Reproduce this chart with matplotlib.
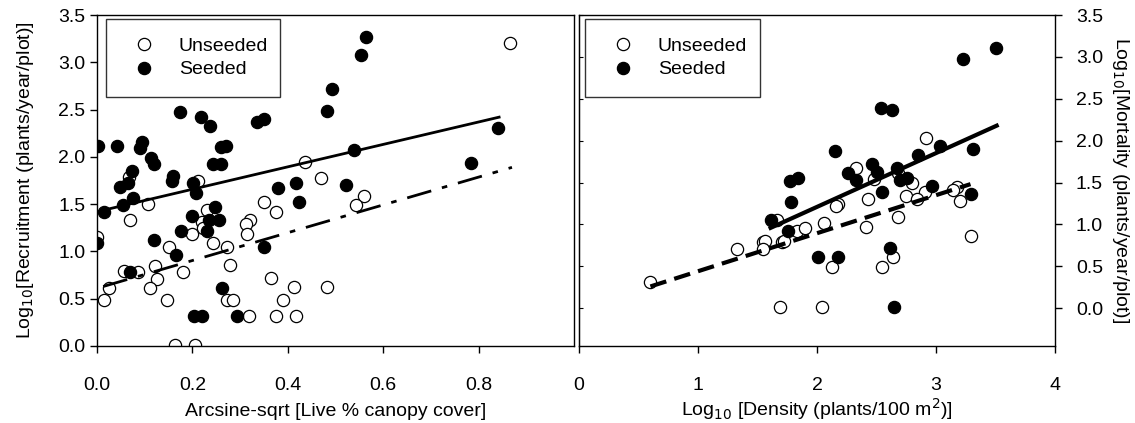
import numpy as np
import matplotlib
matplotlib.use("Agg")
import matplotlib.pyplot as plt

plt.rcParams['font.family'] = ['Liberation Sans', 'DejaVu Sans']
plt.rcParams['font.size'] = 14

# left panel: recruitment vs canopy cover
cover_unseeded = [0.866, 0.437, 0.469, 0.559, 0.544, 0.376, 0.350, 0.320, 0.313, 0.314,
                  0.272, 0.278, 0.364, 0.414, 0.483, 0.272, 0.285, 0.389, 0.318, 0.376,
                  0.418, 0.067, 0.211, 0.107, 0.069, 0.230, 0.220, 0.222, 0.199, 0.000,
                  0.243, 0.151, 0.056, 0.085, 0.121, 0.180, 0.125, 0.111, 0.025, 0.015,
                  0.146, 0.163, 0.205]
recr_unseeded = [3.20, 1.95, 1.78, 1.59, 1.49, 1.42, 1.52, 1.33, 1.29, 1.18,
                 1.05, 0.86, 0.72, 0.62, 0.62, 0.49, 0.49, 0.49, 0.32, 0.32,
                 0.32, 1.79, 1.74, 1.50, 1.33, 1.44, 1.31, 1.25, 1.18, 1.15,
                 1.09, 1.05, 0.79, 0.78, 0.85, 0.78, 0.71, 0.61, 0.61, 0.49,
                 0.49, 0.01, 0.01]
cover_seeded = [0.174, 0.218, 0.236, 0.335, 0.351, 0.002, 0.041, 0.094, 0.090, 0.113,
                0.119, 0.243, 0.261, 0.261, 0.270, 0.159, 0.157, 0.563, 0.554, 0.492,
                0.483, 0.841, 0.538, 0.785, 0.379, 0.418, 0.523, 0.423, 0.073, 0.048,
                0.065, 0.201, 0.207, 0.075, 0.054, 0.015, 0.247, 0.199, 0.234, 0.255,
                0.230, 0.176, 0.000, 0.119, 0.165, 0.069, 0.203, 0.220, 0.263, 0.293,
                0.350]
recr_seeded = [2.47, 2.42, 2.33, 2.37, 2.40, 2.12, 2.11, 2.16, 2.09, 1.99,
               1.92, 1.92, 1.92, 2.10, 2.12, 1.80, 1.75, 3.27, 3.08, 2.72,
               2.49, 2.30, 2.07, 1.93, 1.67, 1.72, 1.70, 1.52, 1.85, 1.68,
               1.72, 1.72, 1.62, 1.56, 1.49, 1.42, 1.47, 1.37, 1.33, 1.33,
               1.22, 1.22, 1.09, 1.12, 0.96, 0.78, 0.32, 0.32, 0.61, 0.32,
               1.05]

# right panel: mortality vs density
dens_unseeded = [0.60, 1.33, 1.55, 1.56, 1.55, 1.71, 1.72, 1.66, 1.83, 1.90,
                 2.06, 2.18, 2.16, 2.13, 2.04, 1.69, 2.43, 2.41, 2.33, 2.48,
                 2.68, 2.80, 2.92, 2.91, 2.75, 2.84, 2.68, 2.64, 2.55, 3.18,
                 3.14, 3.20, 3.29]
mort_unseeded = [0.31, 0.71, 0.79, 0.80, 0.71, 0.79, 0.80, 1.05, 0.92, 0.96,
                 1.02, 1.25, 1.22, 0.49, 0.01, 0.01, 1.31, 0.97, 1.67, 1.54,
                 1.61, 1.49, 2.03, 1.39, 1.34, 1.30, 1.09, 0.61, 0.49, 1.45,
                 1.41, 1.28, 0.86]
dens_seeded = [3.23, 3.50, 2.54, 2.63, 2.15, 3.03, 3.31, 2.85, 2.46, 2.67,
               2.26, 2.50, 2.33, 2.70, 2.76, 2.97, 2.55, 3.29, 2.18, 2.01,
               2.61, 2.65, 1.77, 1.84, 1.78, 1.61, 1.76]
mort_seeded = [2.97, 3.11, 2.39, 2.37, 1.88, 1.94, 1.90, 1.83, 1.72, 1.67,
               1.61, 1.63, 1.53, 1.53, 1.55, 1.46, 1.39, 1.36, 0.61, 0.61,
               0.72, 0.01, 1.52, 1.55, 1.27, 1.05, 0.92]

# regression lines: (x start, x end, intercept, slope)
fit_recr_seeded = (0.0, 0.843, 1.42, 1.186)
fit_recr_unseeded = (0.013, 0.870, 0.61, 1.47)
fit_mort_seeded = (1.61, 3.51, -0.074, 0.642)
fit_mort_unseeded = (0.60, 3.29, -0.012, 0.454)

fig = plt.figure(figsize=(11.35, 4.23), dpi=100)
ax1 = fig.add_axes([97 / 1135, 1 - 346 / 423, 477 / 1135, 331 / 423])
ax2 = fig.add_axes([579 / 1135, 1 - 346 / 423, 476 / 1135, 331 / 423])

ms = 8.8
open_kw = dict(marker='o', ms=ms, mfc='white', mec='black', mew=0.9, ls='none')
fill_kw = dict(marker='o', ms=ms, mfc='black', mec='black', mew=0.9, ls='none')


def fit_line(ax, fit, **kw):
    x0, x1, b, m = fit
    xs = np.array([x0, x1])
    ax.plot(xs, b + m * xs, color='black', **kw)


# left
ax1.plot(cover_unseeded, recr_unseeded, label='Unseeded', **open_kw)
ax1.plot(cover_seeded, recr_seeded, label='Seeded', **fill_kw)
fit_line(ax1, fit_recr_seeded, lw=2)
fit_line(ax1, fit_recr_unseeded, lw=2, dashes=(9, 4, 2, 4))
ax1.set_xlim(0, 1.0)
ax1.set_ylim(0, 3.5)
ax1.set_xticks([0.0, 0.2, 0.4, 0.6, 0.8])
ax1.set_xticklabels(['0.0', '0.2', '0.4', '0.6', '0.8'])
ax1.set_yticks(np.arange(0, 3.51, 0.5))
ax1.set_yticklabels(['%.1f' % v for v in np.arange(0, 3.51, 0.5)])
ax1.tick_params(direction='out', length=5, width=1, labelsize=14)
ax1.tick_params(axis='x', pad=17)
ax1.set_xlabel('Arcsine-sqrt [Live % canopy cover]', fontsize=14, labelpad=7)
ax1.set_ylabel('Log$_{10}$[Recruitment (plants/year/plot)]', fontsize=14, labelpad=16)

# right
ax2.plot(dens_unseeded, mort_unseeded, label='Unseeded', **open_kw)
ax2.plot(dens_seeded, mort_seeded, label='Seeded', **fill_kw)
fit_line(ax2, fit_mort_seeded, lw=3)
fit_line(ax2, fit_mort_unseeded, lw=3, dashes=(4, 2))
ax2.set_xlim(0, 4)
ax2.set_ylim(-0.45, 3.5)
ax2.set_xticks([0, 1, 2, 3, 4])
ax2.set_yticks(np.arange(0, 3.51, 0.5))
ax2.set_yticklabels(['%.1f' % v for v in np.arange(0, 3.51, 0.5)])
ax2.yaxis.tick_right()
ax2.yaxis.set_label_position('right')
ax2.tick_params(direction='out', length=5, width=1, labelsize=14)
ax2.tick_params(axis='x', pad=17)
ax2.tick_params(axis='y', pad=10)
ax2.set_xlabel('Log$_{10}$ [Density (plants/100 m$^2$)]', fontsize=14, labelpad=2)
ax2.set_ylabel('Log$_{10}$[Mortality (plants/year/plot)]', fontsize=14,
               rotation=270, labelpad=20)
sec = ax2.secondary_yaxis('left')
sec.set_yticks(np.arange(0, 3.51, 0.5))
sec.tick_params(direction='in', length=3, labelleft=False)

legend_boxes = {ax1: (9 / 477, 0.988, 174 / 477), ax2: (6 / 476, 0.988, 175 / 476)}
for ax in (ax1, ax2):
    for s in ax.spines.values():
        s.set_linewidth(1)
    x0, y1, w = legend_boxes[ax]
    leg = ax.legend(loc='upper left', mode='expand', frameon=True, fancybox=False,
                    edgecolor='black', fontsize=14, borderpad=0.95,
                    handletextpad=0.8, labelspacing=0.3, borderaxespad=0,
                    bbox_to_anchor=(x0, y1 - 0.3, w, 0.3))
    leg.get_frame().set_linewidth(1)

fig.savefig('out.png', dpi=100)
